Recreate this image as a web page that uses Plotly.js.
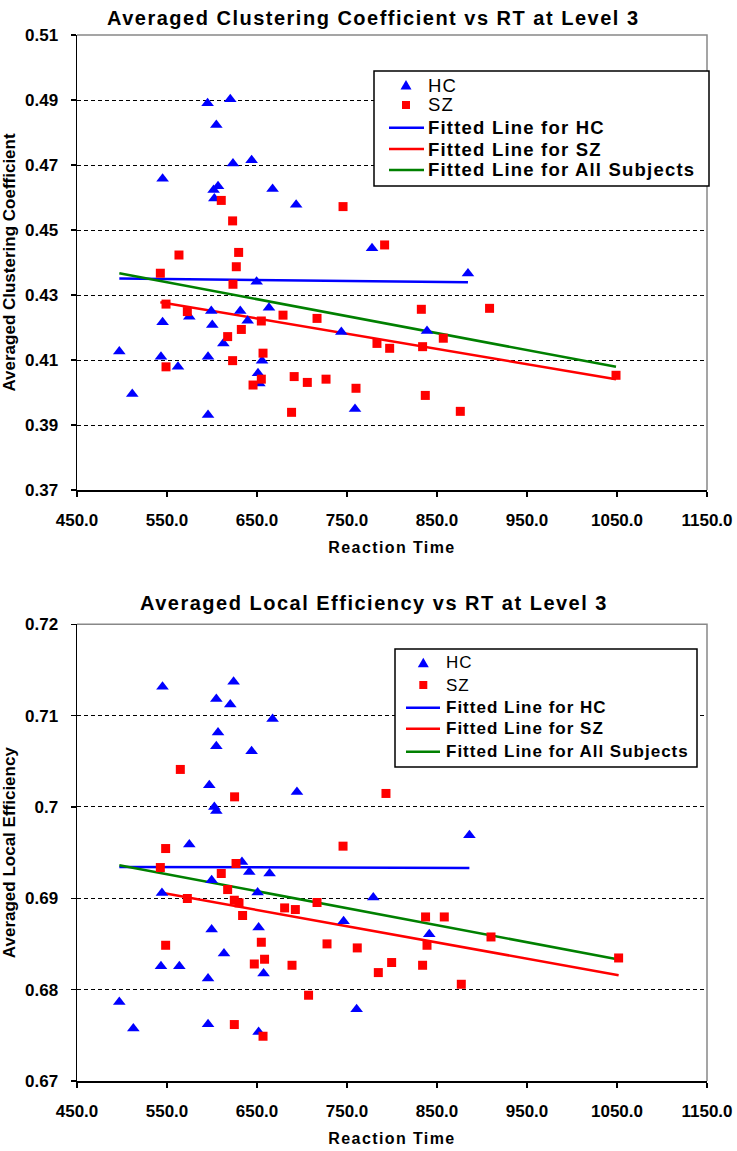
<!DOCTYPE html>
<html><head><meta charset="utf-8">
<script src="https://cdn.plot.ly/plotly-3.0.1.min.js"></script>
<style>
body{margin:0;background:#fff}
#chart{width:737px;height:1151px}
</style>
</head><body><div id="chart"></div>
<script>
// ---------- Data: Averaged Clustering Coefficient (top) ----------
const ccHcRT = [595.1, 620.3, 604.8, 623.3, 644, 545.1, 606.7, 601.8, 602.6, 667.3, 693.5, 777.8, 884.4, 649.6, 663.3, 574.8, 599.2, 631.4, 545.1, 600.3, 639.6, 612.6, 497, 543.3, 595.6, 655.6, 562.2, 651.1, 652.6, 511.4, 595.6, 743.7, 838.9, 758.9];
const ccHcVal = [0.489, 0.4902, 0.4823, 0.4705, 0.4715, 0.4658, 0.4635, 0.4623, 0.4597, 0.4626, 0.4578, 0.4444, 0.4366, 0.4341, 0.4261, 0.4233, 0.4251, 0.4251, 0.4216, 0.4208, 0.4221, 0.4151, 0.4126, 0.411, 0.411, 0.4098, 0.4079, 0.4059, 0.4028, 0.3995, 0.3931, 0.4186, 0.4189, 0.3949];
const ccSzRT = [610.3, 622.9, 563.3, 629.6, 627, 542.6, 623.3, 548.9, 572.6, 617.4, 632.6, 654.8, 678.9, 622.9, 656.7, 548.9, 654.8, 645.6, 691.3, 688.4, 745.6, 791.8, 716.7, 832.6, 908.4, 857, 783.3, 797.4, 834, 705.9, 726.7, 760, 837, 875.9, 1048.9];
const ccSzVal = [0.4591, 0.4528, 0.4423, 0.4431, 0.4387, 0.4367, 0.4333, 0.4272, 0.4249, 0.4172, 0.4194, 0.422, 0.4238, 0.4098, 0.4121, 0.4079, 0.4041, 0.4023, 0.4049, 0.3939, 0.4572, 0.4454, 0.4228, 0.4256, 0.4259, 0.4167, 0.4151, 0.4136, 0.4141, 0.4031, 0.4041, 0.4013, 0.3991, 0.3942, 0.4053];
const ccFitHcRT = [497, 884.4],   ccFitHcVal = [0.4351, 0.4339];
const ccFitSzRT = [542.6, 1048.9], ccFitSzVal = [0.4278, 0.4041];
const ccFitAllRT = [497, 1048.9], ccFitAllVal = [0.4367, 0.4079];

// ---------- Data: Averaged Local Efficiency (bottom) ----------
const leHcRT = [545, 624, 604.8, 620.3, 667.3, 606.7, 604.8, 644, 597, 694.4, 602.6, 604.8, 574.8, 886, 633.3, 641.4, 664, 599.6, 544.4, 650.7, 779.2, 746.2, 651.8, 599.6, 841.4, 613.3, 543.3, 563.7, 657.3, 595.6, 497, 512.6, 595.6, 651.8, 760.7];
const leHcVal = [0.71315, 0.7137, 0.71181, 0.71123, 0.70962, 0.70816, 0.70666, 0.70611, 0.70239, 0.70165, 0.70001, 0.69957, 0.69589, 0.69691, 0.69399, 0.69289, 0.69272, 0.69198, 0.69059, 0.69063, 0.69009, 0.68749, 0.6868, 0.68658, 0.68607, 0.68395, 0.68256, 0.68256, 0.68176, 0.68122, 0.67865, 0.67574, 0.67621, 0.67537, 0.67785];
const leSzRT = [564.8, 625.1, 548.5, 542.6, 626.7, 610.3, 617.4, 572.6, 624.8, 630, 634, 680.7, 692.6, 548.5, 654.8, 658.4, 647, 688.9, 624.8, 656.7, 745.6, 716.7, 837.3, 858.1, 910, 838.9, 727.8, 761.4, 799.6, 834, 784.8, 877, 707.3, 793.3, 1051.8];
const leSzVal = [0.70411, 0.70111, 0.69545, 0.69337, 0.69381, 0.69272, 0.69096, 0.68998, 0.68979, 0.6895, 0.68812, 0.68895, 0.68877, 0.68486, 0.68519, 0.68333, 0.68281, 0.68267, 0.67618, 0.6749, 0.69571, 0.68954, 0.68796, 0.68796, 0.68577, 0.68486, 0.68501, 0.68457, 0.68297, 0.68267, 0.68187, 0.68059, 0.67939, 0.70148, 0.68347];
const leFitHcRT = [497, 886],     leFitHcVal = [0.69344, 0.69333];
const leFitSzRT = [542.6, 1051.8], leFitSzVal = [0.69063, 0.68158];
const leFitAllRT = [497, 1051.8], leFitAllVal = [0.69363, 0.6833];

// ---------- Text ----------
const titles = ['Averaged Clustering Coefficient vs RT at Level 3', 'Averaged Local Efficiency vs RT at Level 3'];
const yTitles = ['Averaged Clustering Coefficient', 'Averaged Local Efficiency'];
const xTitle = 'Reaction Time';
const legendNames = ['HC', 'SZ', 'Fitted Line for HC', 'Fitted Line for SZ', 'Fitted Line for All Subjects'];

// ---------- Layout helpers ----------
const W = 737, H = 1151, ML = 77, MR = 30, MT = 35, MB = 70;
const PW = W - ML - MR, PH = H - MT - MB;
const px = p => (p - ML) / PW;
const py = p => 1 - (p - MT) / PH;
const FONT = 'Liberation Sans, Arial, sans-serif';
const BLUE = '#0000ff', RED = '#ff0000', GREEN = '#008000';
const spaced = (t, ls, bold) => `<span style="letter-spacing:${ls}px">${bold ? '<b>' + t + '</b>' : t}</span>`;

function scatterPair(xs, ys, xa, ya, color, sym, size) {
  return {x: xs, y: ys, xaxis: xa, yaxis: ya, type: 'scatter', mode: 'markers',
    marker: {color: color, symbol: sym, size: size, line: {width: 0}}, showlegend: false, hoverinfo: 'skip'};
}
function fitLine(xs, ys, xa, ya, color) {
  return {x: xs, y: ys, xaxis: xa, yaxis: ya, type: 'scatter', mode: 'lines',
    line: {color: color, width: 2.5}, showlegend: false, hoverinfo: 'skip'};
}

const traces = [
  fitLine(ccFitHcRT, ccFitHcVal, 'x', 'y', BLUE),
  fitLine(ccFitSzRT, ccFitSzVal, 'x', 'y', RED),
  fitLine(ccFitAllRT, ccFitAllVal, 'x', 'y', GREEN),
  scatterPair(ccHcRT, ccHcVal, 'x', 'y', BLUE, 'triangle-up', 11),
  scatterPair(ccSzRT, ccSzVal, 'x', 'y', RED, 'square', 9),
  fitLine(leFitHcRT, leFitHcVal, 'x2', 'y2', BLUE),
  fitLine(leFitSzRT, leFitSzVal, 'x2', 'y2', RED),
  fitLine(leFitAllRT, leFitAllVal, 'x2', 'y2', GREEN),
  scatterPair(leHcRT, leHcVal, 'x2', 'y2', BLUE, 'triangle-up', 11),
  scatterPair(leSzRT, leSzVal, 'x2', 'y2', RED, 'square', 9)
];

const tickFont = {family: FONT, size: 17, color: '#000', weight: 'bold'};
function xAxis(anchor) {
  return {anchor: anchor, domain: [0, 1], range: [450, 1150], tick0: 450, dtick: 100, tickformat: '.1f',
    showline: true, linecolor: '#000', linewidth: 1.5, ticks: 'outside', ticklen: 5, tickwidth: 1.5, tickcolor: '#000',
    ticklabelstandoff: 9,
    showgrid: false, zeroline: false, tickfont: tickFont,
    title: {text: spaced(xTitle, 1.4, true), font: {family: FONT, size: 16, color: '#000'}, standoff: 13}};
}
function yAxis(anchor, domain, range, dtick, fmt, title) {
  return {anchor: anchor, domain: domain, range: range, tick0: range[0], dtick: dtick, tickformat: fmt,
    showline: true, linecolor: '#000', linewidth: 1.5, ticks: 'outside', ticklen: 5, tickwidth: 1.5, tickcolor: '#000',
    ticklabelstandoff: 9,
    showgrid: true, gridcolor: '#000', gridwidth: 1, griddash: '4px,3px', zeroline: false, tickfont: tickFont,
    title: {text: '<b>' + title + '</b>', font: {family: FONT, size: 17, color: '#000'}, standoff: 6}};
}

const shapes = [];
const annotations = [];
// frame (top & right, gray)
['', '2'].forEach(s => {
  shapes.push({type: 'path', xref: 'x' + s + ' domain', yref: 'y' + s + ' domain', path: 'M0,1 L1,1 L1,0',
    line: {color: '#888', width: 1.5}, layer: 'above'});
});

function buildLegend(box, symX, rows, lineX0, lineX1, textX, fsize, ls) {
  shapes.push({type: 'rect', xref: 'paper', yref: 'paper', x0: px(box[0]), x1: px(box[2]), y0: py(box[3]), y1: py(box[1]),
    line: {color: '#000', width: 1.5}, fillcolor: '#fff', layer: 'above'});
  const ty = rows[0];
  shapes.push({type: 'path', xref: 'paper', yref: 'paper',
    path: `M${px(symX - 5.5)},${py(ty + 4.5)} L${px(symX + 5.5)},${py(ty + 4.5)} L${px(symX)},${py(ty - 5)} Z`,
    fillcolor: BLUE, line: {width: 0}, layer: 'above'});
  const sy = rows[1];
  shapes.push({type: 'rect', xref: 'paper', yref: 'paper', x0: px(symX - 4), x1: px(symX + 4), y0: py(sy + 4), y1: py(sy - 4),
    fillcolor: RED, line: {width: 0}, layer: 'above'});
  [BLUE, RED, GREEN].forEach((c, i) => {
    shapes.push({type: 'line', xref: 'paper', yref: 'paper', x0: px(lineX0), x1: px(lineX1), y0: py(rows[i + 2]), y1: py(rows[i + 2]),
      line: {color: c, width: 2.5}, layer: 'above'});
  });
  legendNames.forEach((n, i) => {
    annotations.push({xref: 'paper', yref: 'paper', x: px(textX), y: py(rows[i]), xanchor: 'left', yanchor: 'middle',
      showarrow: false, text: spaced(n, ls, i >= 2), font: {family: FONT, size: fsize, color: '#000'}});
  });
}
buildLegend([374, 71, 709, 186], 406, [85, 105, 127.7, 149, 170], 389, 424, 426, 18.5, 1.2);
buildLegend([395, 649, 697, 767], 423.3, [662.7, 685, 707.7, 728.7, 751.7], 406, 440, 444, 17, 1.0);

annotations.push({xref: 'paper', yref: 'paper', x: px(373), y: py(18), xanchor: 'center', yanchor: 'middle', showarrow: false,
  text: spaced(titles[0], 1.5, true), font: {family: FONT, size: 20, color: '#000'}});
annotations.push({xref: 'paper', yref: 'paper', x: px(374), y: py(603), xanchor: 'center', yanchor: 'middle', showarrow: false,
  text: spaced(titles[1], 1.5, true), font: {family: FONT, size: 20, color: '#000'}});

const layout = {
  width: W, height: H, margin: {l: ML, r: MR, t: MT, b: MB}, paper_bgcolor: '#fff', plot_bgcolor: '#fff',
  showlegend: false, font: {family: FONT, color: '#000'},
  xaxis: xAxis('y'),
  yaxis: yAxis('x', [1 - (490 - MT) / PH, 1], [0.37, 0.51], 0.02, '.2f', yTitles[0]),
  xaxis2: xAxis('y2'),
  yaxis2: yAxis('x2', [0, (1081 - 624.3) / PH], [0.67, 0.72], 0.01, '', yTitles[1]),
  shapes: shapes, annotations: annotations
};

Plotly.newPlot('chart', traces, layout, {staticPlot: true});
</script>
</body></html>
